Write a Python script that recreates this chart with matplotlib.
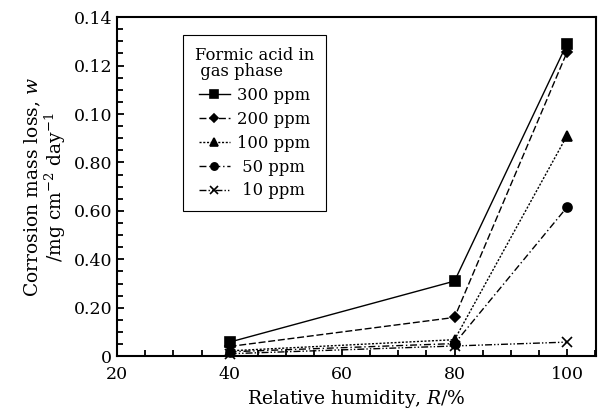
import matplotlib
matplotlib.use("Agg")
import matplotlib.pyplot as plt
from matplotlib.ticker import MultipleLocator

# relative humidity, %
humidity = [40, 80, 100]

# corrosion mass loss per formic acid concentration
loss300 = [0.0058, 0.031, 0.129]
loss200 = [0.0040, 0.016, 0.1255]
loss100 = [0.0022, 0.0068, 0.091]
loss50 = [0.0018, 0.0052, 0.0615]
loss10 = [0.0010, 0.0042, 0.0058]

labels = ["300 ppm", "200 ppm", "100 ppm", " 50 ppm", " 10 ppm"]
yTicks = [0, 0.02, 0.04, 0.06, 0.08, 0.10, 0.12, 0.14]
yTickLabels = ["0", "0.20", "0.40", "0.60", "0.80", "0.10", "0.12", "0.14"]
xTicks = [20, 40, 60, 80, 100]

plt.rcParams["font.family"] = "DejaVu Serif"
plt.rcParams["mathtext.fontset"] = "dejavuserif"

fig = plt.figure(figsize=(5.98, 4.19), dpi=100)
ax = fig.add_axes([0.196, 0.150, 0.801, 0.809])

series = [loss300, loss200, loss100, loss50, loss10]
styles = ["-", (0, (5, 2)), (0, (1.5, 1.2)), (0, (5, 2, 1, 2)), (0, (5, 1.5, 1, 1.5, 1, 1.5))]
markers = ["s", "D", "^", "o", "x"]
sizes = [7, 5.5, 7, 6.5, 7]

for vals, ls, mk, ms, lab in zip(series, styles, markers, sizes, labels):
    ax.plot(humidity, vals, linestyle=ls, marker=mk, markersize=ms, color="black",
            linewidth=1.0, markeredgewidth=1.2, label=lab, clip_on=False)

ax.set_xlim(20, 105.2)
ax.set_ylim(0, 0.14)
ax.set_xticks(xTicks)
ax.xaxis.set_minor_locator(MultipleLocator(5))
ax.set_yticks(yTicks)
ax.set_yticklabels(yTickLabels)
ax.yaxis.set_minor_locator(MultipleLocator(0.005))
ax.tick_params(which="both", direction="in", top=False, right=False, labelsize=12.5, width=1.3)
ax.tick_params(which="major", length=5)
ax.tick_params(which="minor", length=4)
ax.tick_params(axis="x", pad=7)
for sp in ax.spines.values():
    sp.set_linewidth(1.5)

ax.set_xlabel("Relative humidity, $R$/%", fontsize=13.5)
ax.set_ylabel("Corrosion mass loss, $w$\n/mg cm$^{-2}$ day$^{-1}$", fontsize=13.5,
              linespacing=1.0)

leg = ax.legend(title="Formic acid in\n gas phase", loc="upper left",
                bbox_to_anchor=(0.138, 0.947), fontsize=11.8, title_fontsize=11.8,
                handlelength=1.9, handletextpad=0.45, labelspacing=0.42,
                markerscale=0.8, fancybox=False, edgecolor="black", framealpha=1,
                borderpad=0.7, borderaxespad=0)
leg.get_frame().set_linewidth(0.8)
leg.get_title().set_linespacing(0.95)

fig.savefig("out.png", dpi=100)
